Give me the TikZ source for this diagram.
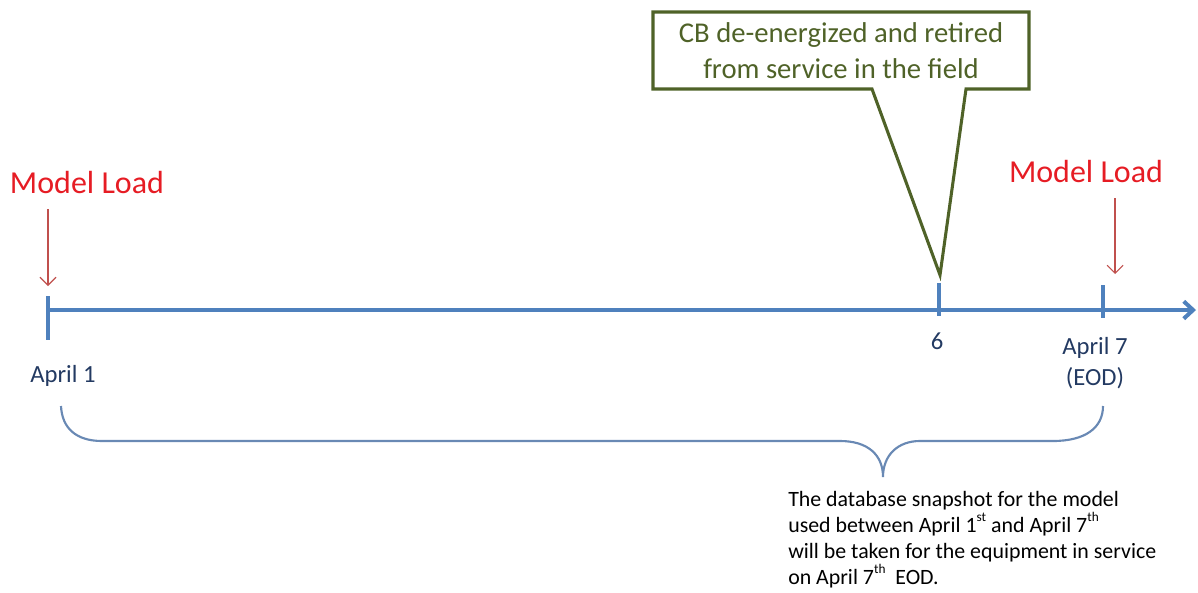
\documentclass[tikz,border=0pt]{standalone}
\usepackage{fontspec}
\setmainfont{Carlito}
\usetikzlibrary{arrows.meta}
\definecolor{axisblue}{RGB}{79,129,189}
\definecolor{bracegray}{RGB}{105,137,180}
\definecolor{loadred}{RGB}{230,28,36}
\definecolor{arrowred}{RGB}{192,80,77}
\definecolor{navy}{RGB}{35,58,98}
\definecolor{olive}{RGB}{79,98,40}
\newcommand{\supx}[1]{\raisebox{0.5em}{\fontsize{10}{10}\selectfont #1}}
\tikzset{
  axisline/.style={draw=axisblue, line width=3pt},
  tickmark/.style={draw=axisblue, line width=3pt},
  loadlabel/.style={text=loadred, font=\fontsize{24}{28}\selectfont, inner sep=0pt},
  loadarrow/.style={draw=arrowred, line width=0.8pt, -{Straight Barb[length=6pt,width=12pt]}},
  datelabel/.style={text=navy, font=\fontsize{18.5}{23}\selectfont, inner sep=0pt, align=center},
  callout/.style={draw=olive, line width=2.3pt, line join=miter, miter limit=20},
  callouttext/.style={text=olive, font=\fontsize{21.5}{27}\selectfont, align=center, inner sep=0pt},
  bracestyle/.style={draw=bracegray, line width=1.6pt},
  notetext/.style={text=black, font=\fontsize{16.4}{19.6}\selectfont, align=left, inner sep=0pt}
}
\begin{document}
\begin{tikzpicture}[x=0.75pt, y=-0.75pt]
\useasboundingbox (0,0) rectangle (1198,592);
% timeline
\coordinate (start) at (48,310);
\coordinate (end) at (1196,310);
\draw[axisline, -{Straight Barb[length=7pt,width=13pt]}] (start) -- (end);
\draw[tickmark] (48,296) -- (48,340);
\draw[tickmark] (939,283) -- (939,316);
\draw[tickmark] (1103,285) -- (1103,318);
% model load labels and arrows
\node[loadlabel] (ml1) at (87,183) {Model Load};
\node[loadlabel] (ml2) at (1086,172) {Model Load};
\coordinate (a1s) at (48,209);
\coordinate (a1e) at (48,286);
\coordinate (a2s) at (1115,198);
\coordinate (a2e) at (1115,274);
\draw[loadarrow] (a1s) -- (a1e);
\draw[loadarrow] (a2s) -- (a2e);
% date labels
\node[datelabel] (apr1) at (63,376) {April 1};
\node[datelabel] (six) at (937,341) {6};
\node[datelabel] (apr7) at (1095,363) {April 7\\(EOD)};
% callout
\draw[callout] (653,12) -- (1029,12) -- (1029,89) -- (966,89) -- (940,275) -- (872,89) -- (653,89) -- cycle;
\node[callouttext] (cb) at (841,51) {CB de-energized and retired\\from service in the field};
% brace
\draw[bracestyle] (61,406) .. controls (62,428) and (76,441) .. (102,441)
  -- (840,441) .. controls (868,441) and (883,455) .. (883,477)
  .. controls (883,455) and (898,441) .. (920,441)
  -- (1053,441) .. controls (1085,441) and (1103,428) .. (1103,406);
% note
\node[notetext, anchor=north west] (note) at (788,491) {The database snapshot for the model\\used between April 1\supx{st} and April 7\supx{th}\\will be taken for the equipment in service\\on April 7\supx{th}\ \ EOD.};
\end{tikzpicture}
\end{document}
